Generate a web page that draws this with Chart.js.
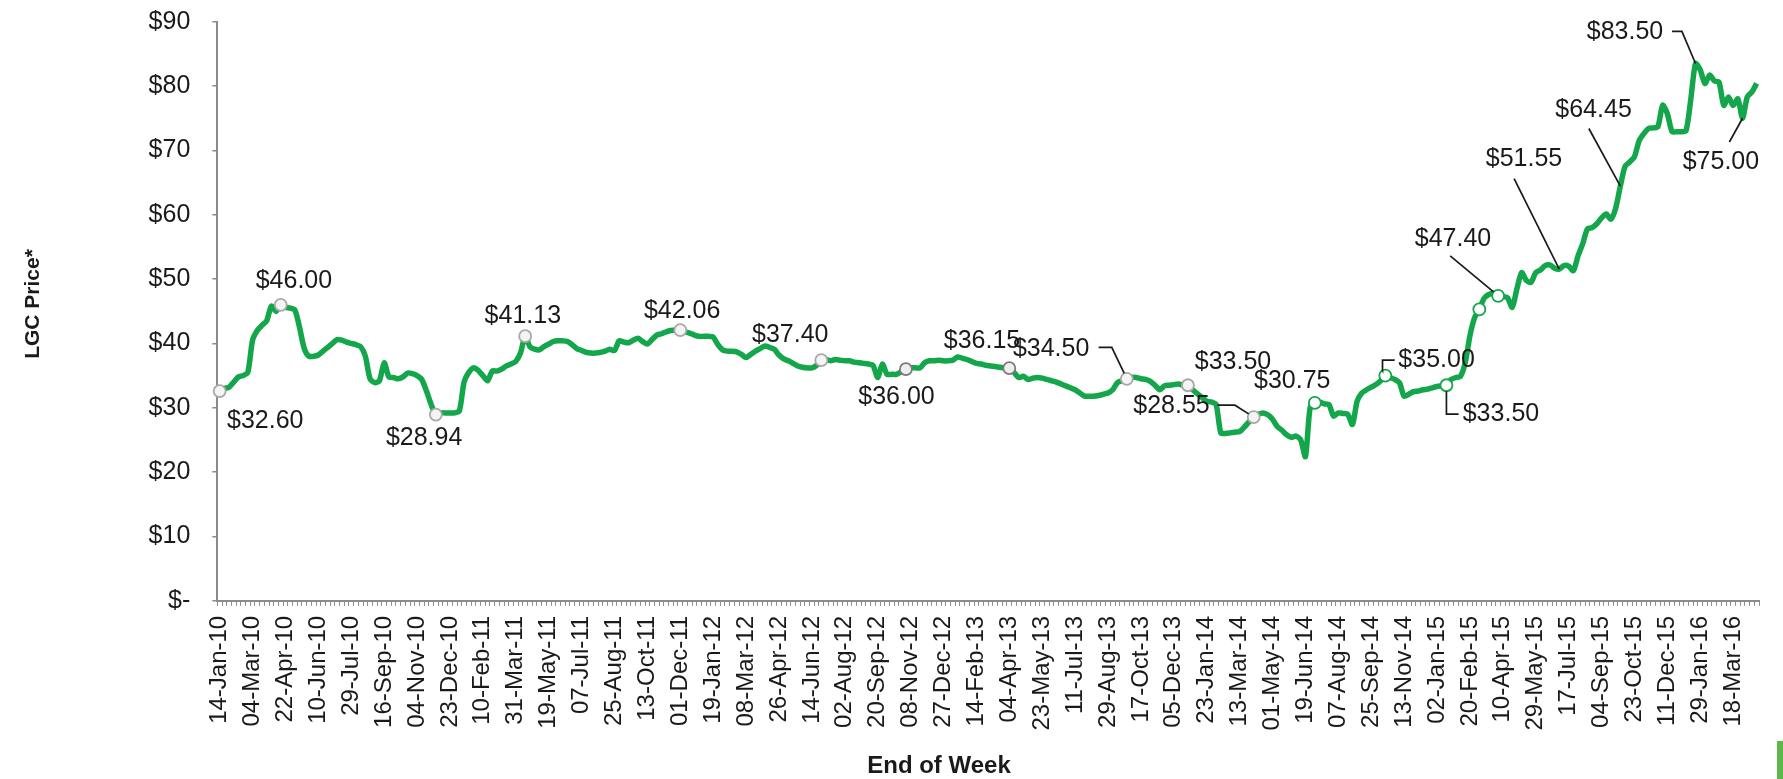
<!DOCTYPE html>
<html>
<head>
<meta charset="utf-8">
<script src="https://cdn.jsdelivr.net/npm/chart.js@4.4.1/dist/chart.umd.min.js"></script>
<style>
html,body{margin:0;padding:0;background:#ffffff;}
#wrap{position:relative;width:1783px;height:779px;overflow:hidden;background:#ffffff;}
#c{position:absolute;left:0;top:0;}
#bar{position:absolute;left:1777px;top:741px;width:6px;height:38px;background:#5cb848;}
</style>
</head>
<body>
<div id="wrap"><canvas id="c" width="1783" height="779"></canvas><div id="bar"></div></div>
<script>
// ---------------- DATA ----------------
const tickLabels = [
  '14-Jan-10','04-Mar-10','22-Apr-10','10-Jun-10','29-Jul-10','16-Sep-10','04-Nov-10','23-Dec-10',
  '10-Feb-11','31-Mar-11','19-May-11','07-Jul-11','25-Aug-11','13-Oct-11','01-Dec-11',
  '19-Jan-12','08-Mar-12','26-Apr-12','14-Jun-12','02-Aug-12','20-Sep-12','08-Nov-12','27-Dec-12',
  '14-Feb-13','04-Apr-13','23-May-13','11-Jul-13','29-Aug-13','17-Oct-13','05-Dec-13',
  '23-Jan-14','13-Mar-14','01-May-14','19-Jun-14','07-Aug-14','25-Sep-14','13-Nov-14',
  '02-Jan-15','20-Feb-15','10-Apr-15','29-May-15','17-Jul-15','04-Sep-15','23-Oct-15','11-Dec-15',
  '29-Jan-16','18-Mar-16'
];
const weeksPerTick = 7;

// weekly LGC price ($), 14-Jan-10 ... Apr-16 (328 weeks)
const lgcPrice = [
  32.6, 33.0, 33.2, 34.0, 34.8, 35.0, 35.5, 40.5, 42.0, 42.8,
  43.5, 45.8, 45.0, 46.0, 45.6, 45.5, 45.2, 42.5, 39.2, 38.0,
  38.0, 38.2, 38.8, 39.4, 40.0, 40.6, 40.5, 40.2, 40.0, 39.8,
  39.5, 38.0, 34.5, 33.9, 34.2, 37.0, 34.8, 34.7, 34.5, 34.8,
  35.4, 35.3, 35.0, 34.4, 32.6, 30.5, 28.94, 29.2, 29.2, 29.2,
  29.2, 29.5, 34.0, 35.5, 36.2, 35.8, 35.0, 34.2, 35.7, 35.7,
  36.0, 36.5, 36.8, 37.2, 38.5, 41.13, 39.5, 39.1, 39.0, 39.5,
  39.9, 40.3, 40.4, 40.4, 40.3, 39.8, 39.2, 38.9, 38.6, 38.5,
  38.5, 38.6, 38.8, 39.1, 38.9, 40.4, 40.2, 40.1, 40.5, 40.8,
  40.3, 39.9, 40.6, 41.3, 41.5, 41.8, 42.0, 42.1, 42.06, 41.8,
  41.6, 41.3, 41.1, 41.1, 41.1, 41.0, 39.8, 39.0, 38.8, 38.8,
  38.7, 38.3, 37.8, 38.3, 38.8, 39.2, 39.6, 39.4, 39.1, 38.2,
  37.6, 37.3, 36.9, 36.5, 36.3, 36.2, 36.2, 36.6, 37.4, 37.5,
  37.3, 37.5, 37.4, 37.3, 37.3, 37.1, 37.0, 36.9, 36.8, 36.6,
  34.7, 36.8, 35.2, 35.2, 35.2, 35.6, 36.0, 36.2, 36.2, 36.2,
  37.0, 37.3, 37.3, 37.4, 37.3, 37.3, 37.4, 37.9, 37.7, 37.5,
  37.2, 36.9, 36.8, 36.6, 36.5, 36.4, 36.3, 36.2, 36.15, 35.5,
  34.7, 34.9, 34.4, 34.6, 34.7, 34.6, 34.4, 34.2, 34.0, 33.7,
  33.4, 33.1, 32.8, 32.3, 31.8, 31.8, 31.8, 31.9, 32.1, 32.3,
  32.8, 33.9, 34.2, 34.5, 34.7, 34.7, 34.5, 34.4, 34.1, 33.5,
  32.8, 33.4, 33.5, 33.6, 33.7, 33.5, 33.5, 32.8, 32.2, 31.6,
  31.0, 30.9, 30.5, 26.1, 26.0, 26.1, 26.2, 26.3, 27.0, 27.8,
  28.55, 29.0, 29.2, 28.9, 28.2, 27.1, 26.5, 25.8, 25.4, 25.6,
  25.0, 22.4, 30.0, 30.75, 30.9, 30.6, 30.5, 28.7, 29.2, 29.1,
  29.0, 27.4, 31.0, 32.3, 32.8, 33.2, 33.6, 34.2, 35.0, 34.7,
  34.4, 33.9, 31.8, 32.1, 32.5, 32.6, 32.8, 32.9, 33.1, 33.3,
  33.4, 33.5, 34.4, 34.7, 34.9, 37.0, 41.2, 44.0, 45.3, 47.0,
  47.6, 47.8, 47.4, 47.3, 47.1, 45.6, 48.5, 51.0, 49.8, 49.5,
  51.0, 51.4, 52.1, 52.2, 51.7, 51.55, 52.1, 52.0, 51.3, 53.6,
  55.5, 57.8, 58.0, 58.6, 59.5, 60.1, 59.3, 61.0, 64.45, 67.5,
  68.2, 69.0, 71.5, 72.6, 73.4, 73.5, 73.7, 77.0, 75.7, 72.9,
  72.9, 72.9, 73.1, 78.0, 83.5, 82.5, 80.4, 81.7, 80.8, 80.6,
  77.0, 78.3, 77.0, 78.0, 75.0, 78.3, 79.1, 80.4
];

// annotated points: week index, label text
const calloutIdx  = [0, 13, 46, 65, 98, 128, 146, 168, 193, 206, 220, 233, 248, 261, 268, 272, 285, 298, 314, 324];
const calloutText = ['$32.60','$46.00','$28.94','$41.13','$42.06','$37.40','$36.00','$36.15','$34.50','$33.50',
                     '$28.55','$30.75','$35.00','$33.50','','$47.40','$51.55','$64.45','$83.50','$75.00'];

// ---------------- LAYOUT / STYLE (not data) ----------------
const FONT = "'Liberation Sans', Arial, sans-serif";
const GREEN = '#14a64b';
const MR = 6;
// label centre [x in week units, y in $] and leader bend points, plus marker style
const calloutLayout = [
  {at:[9.7,28.0],   m:'grey'},
  {at:[15.8,49.7],  m:'grey'},
  {at:[43.5,25.3],  m:'grey'},
  {at:[64.5,44.2],  m:'grey'},
  {at:[98.4,45.0],  m:'grey'},
  {at:[121.4,41.3], m:'grey'},
  {at:[144.0,31.6], m:'dark'},
  {at:[162.2,40.3], m:'dark'},
  {at:[176.9,39.1], m:'grey', leader:[[187.0,39.4],[189.8,39.4]]},
  {at:[215.6,37.1], m:'grey'},
  {at:[202.5,30.2], m:'grey', leader:[[212.3,30.4],[216.0,30.4]]},
  {at:[228.2,34.1], m:'green'},
  {at:[258.9,37.4], m:'green', leader:[[250.0,37.4],[247.4,37.4],[247.4,35.8]]},
  {at:[272.6,29.0], m:'green', leader:[[263.6,29.0],[261.0,29.0]]},
  {at:null,         m:'green'},
  {at:[262.4,56.2], m:'green', leader:[[261.8,53.6]]},
  {at:[277.5,68.6], m:null, leader:[[275.4,65.6]]},
  {at:[292.3,76.2], m:null, leader:[[291.3,73.4]]},
  {at:[299.0,88.4], m:null, leader:[[309.0,88.5],[311.1,88.5]]},
  {at:[319.4,68.2], m:null, leader:[[321.2,71.3]]}
];
const markerStyles = {
  grey:  {fill:'#f4f4f4', border:'#a8a8a8'},
  dark:  {fill:'#eeeeee', border:'#7a7a7a'},
  green: {fill:'#ffffff', border:GREEN}
};

// category labels: one per week, text only on every 7th week
const categories = lgcPrice.map((v, i) => (i % weeksPerTick === 0 && tickLabels[i / weeksPerTick]) ? tickLabels[i / weeksPerTick] : '');

const pRadius = lgcPrice.map(() => 0);
const pFill = lgcPrice.map(() => '#ffffff');
const pBorder = lgcPrice.map(() => GREEN);
calloutIdx.forEach((idx, k) => {
  const m = calloutLayout[k].m;
  if (m) { pRadius[idx] = MR; pFill[idx] = markerStyles[m].fill; pBorder[idx] = markerStyles[m].border; }
});

const calloutPlugin = {
  id: 'callouts',
  afterDatasetsDraw(chart) {
    const {ctx} = chart; const x = chart.scales.x, y = chart.scales.y;
    ctx.save();
    ctx.strokeStyle = '#1a1a1a'; ctx.lineWidth = 1.7; ctx.lineJoin = 'miter';
    ctx.fillStyle = '#1a1a1a'; ctx.font = '25px ' + FONT;
    ctx.textAlign = 'center'; ctx.textBaseline = 'middle';
    calloutIdx.forEach((idx, k) => {
      const L = calloutLayout[k];
      if (!calloutText[k] || !L.at) return;
      const ax = x.getPixelForValue(idx), ay = y.getPixelForValue(lgcPrice[idx]);
      if (L.leader && L.leader.length) {
        const pts = L.leader.map(p => [x.getPixelForValue(p[0]), y.getPixelForValue(p[1])]);
        const last = pts[pts.length - 1];
        let ex = ax, ey = ay;
        if (L.m) { const dx = ax - last[0], dy = ay - last[1], d = Math.hypot(dx, dy) || 1; ex = ax - dx / d * MR; ey = ay - dy / d * MR; }
        ctx.beginPath(); ctx.moveTo(pts[0][0], pts[0][1]);
        for (let i = 1; i < pts.length; i++) ctx.lineTo(pts[i][0], pts[i][1]);
        ctx.lineTo(ex, ey); ctx.stroke();
      }
      ctx.fillText(calloutText[k], x.getPixelForValue(L.at[0]), y.getPixelForValue(L.at[1]));
    });
    ctx.restore();
  }
};

const axisTitlePlugin = {
  id: 'axisTitles',
  afterDraw(chart) {
    const {ctx} = chart;
    ctx.save();
    ctx.fillStyle = '#1a1a1a';
    ctx.textAlign = 'center'; ctx.textBaseline = 'middle';
    ctx.font = 'bold 24px ' + FONT;
    ctx.fillText('End of Week', 939, 766);
    ctx.font = 'bold 21px ' + FONT;
    ctx.translate(33, 304); ctx.rotate(-Math.PI / 2);
    ctx.fillText('LGC Price*', 0, 0);
    ctx.restore();
  }
};

new Chart(document.getElementById('c').getContext('2d'), {
  type: 'line',
  data: {
    labels: categories,
    datasets: [{
      data: lgcPrice,
      borderColor: GREEN, borderWidth: 5.5, tension: 0.25, fill: false,
      pointRadius: pRadius, pointHoverRadius: pRadius,
      pointBackgroundColor: pFill, pointBorderColor: pBorder, pointBorderWidth: 1.8
    }]
  },
  options: {
    responsive: false, animation: false, devicePixelRatio: 1, events: [],
    layout: {autoPadding: false, padding: {left: 0, top: 21.7, right: 24, bottom: 0}},
    plugins: {legend: {display: false}, tooltip: {enabled: false}},
    scales: {
      x: {
        type: 'category', offset: true,
        grid: {display: true, offset: true, drawOnChartArea: false, drawTicks: true, tickLength: 5, color: '#8c8c8c', lineWidth: 1},
        border: {display: true, color: '#8c8c8c', width: 2},
        ticks: {autoSkip: false, minRotation: 90, maxRotation: 90, padding: 10, color: '#1a1a1a', font: {family: FONT, size: 24}},
        afterFit(s) { s.height = 779 - 600.8; s.paddingLeft = 0; s.paddingRight = 0; }
      },
      y: {
        min: 0, max: 90,
        grid: {display: true, drawOnChartArea: false, drawTicks: true, tickLength: 5, color: '#8c8c8c', lineWidth: 1.5},
        border: {display: true, color: '#8c8c8c', width: 2},
        ticks: {stepSize: 10, padding: 22, color: '#1a1a1a', font: {family: FONT, size: 25},
                callback: v => v === 0 ? '$-' : '$' + v},
        afterFit(s) { s.width = 217.3; s.paddingTop = 0; s.paddingBottom = 0; }
      }
    }
  },
  plugins: [calloutPlugin, axisTitlePlugin]
});
</script>
</body>
</html>
